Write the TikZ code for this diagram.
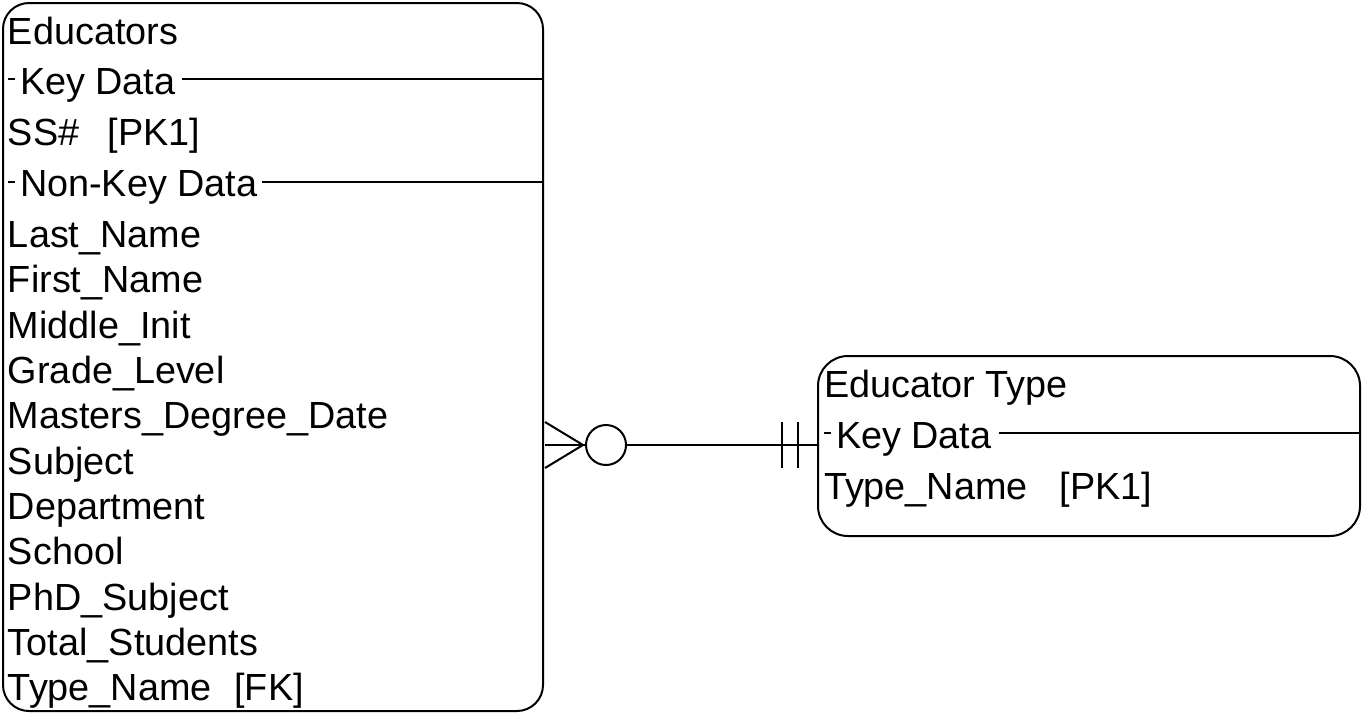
\documentclass[tikz,border=0pt]{standalone}
\usepackage{fontspec}
\setmainfont{Liberation Sans}
\usetikzlibrary{calc}
\begin{document}
\begin{tikzpicture}[x=0.5pt,y=-0.5pt,line width=1pt,
  box/.style={draw,rounded corners=13pt,inner sep=0pt,anchor=north west},
  txt/.style={anchor=base west,inner sep=0pt,font=\fontsize{18.9}{22}\selectfont}]
\useasboundingbox (0,0) rectangle (1363,713);
% Educators box
\node[box,minimum width=270pt,minimum height=354pt] (edu) at (2,2) {};
\node[txt] (t0) at (7,44) {Educators};
\coordinate (s1) at (8,79);
\draw (s1) -- ++(7,0);
\node[txt] (k1) at (19,94) {Key Data};
\draw ([xshift=3pt]k1.east |- s1) -- (s1 -| edu.east);
\node[txt] (a0) at (7,145) {SS\#\hspace{0.75em}[PK1]};
\coordinate (s2) at (8,182);
\draw (s2) -- ++(7,0);
\node[txt] (k2) at (19,196) {Non-Key Data};
\draw ([xshift=2pt]k2.east |- s2) -- (s2 -| edu.east);
\node[txt] (a1) at (7,247) {Last\_Name};
\node[txt] (a2) at (7,292) {First\_Name};
\node[txt] (a3) at (7,338) {Middle\_Init};
\node[txt] (a4) at (7,383) {Grade\_Level};
\node[txt] (a5) at (7,428) {Masters\_Degree\_Date};
\node[txt] (a6) at (7,474) {Subject};
\node[txt] (a7) at (7,519) {Department};
\node[txt] (a8) at (7,564) {School};
\node[txt] (a9) at (7,610) {PhD\_Subject};
\node[txt] (a10) at (7,655) {Total\_Students};
\node[txt] (a11) at (7,700) {Type\_Name\hspace{0.6em}[FK]};
% Educator Type box
\node[box,minimum width=271pt,minimum height=90pt,rounded corners=15pt] (et) at (817,355) {};
\node[txt] (e0) at (823,397) {Educator Type};
\coordinate (s3) at (824,433);
\draw (s3) -- ++(7,0);
\node[txt] (k3) at (835,448) {Key Data};
\draw ([xshift=3pt]k3.east |- s3) -- (s3 -| et.east);
\node[txt] (e1) at (823,499) {Type\_Name\hspace{0.85em}[PK1]};
% relationship
\coordinate (c1) at (545,445);
\coordinate (c2) at (c1 -| et.west);
\draw (c1) -- (c2);
\draw (c1) ++(0,-23) -- ++(38,23) -- ++(-38,23);
\node[draw,circle,minimum size=20pt,inner sep=0pt,fill=white] (o) at ($(c1)+(61,0)$) {};
\draw (c2) ++(-35,-23) -- ++(0,46);
\draw (c2) ++(-19,-23) -- ++(0,46);
\end{tikzpicture}
\end{document}
